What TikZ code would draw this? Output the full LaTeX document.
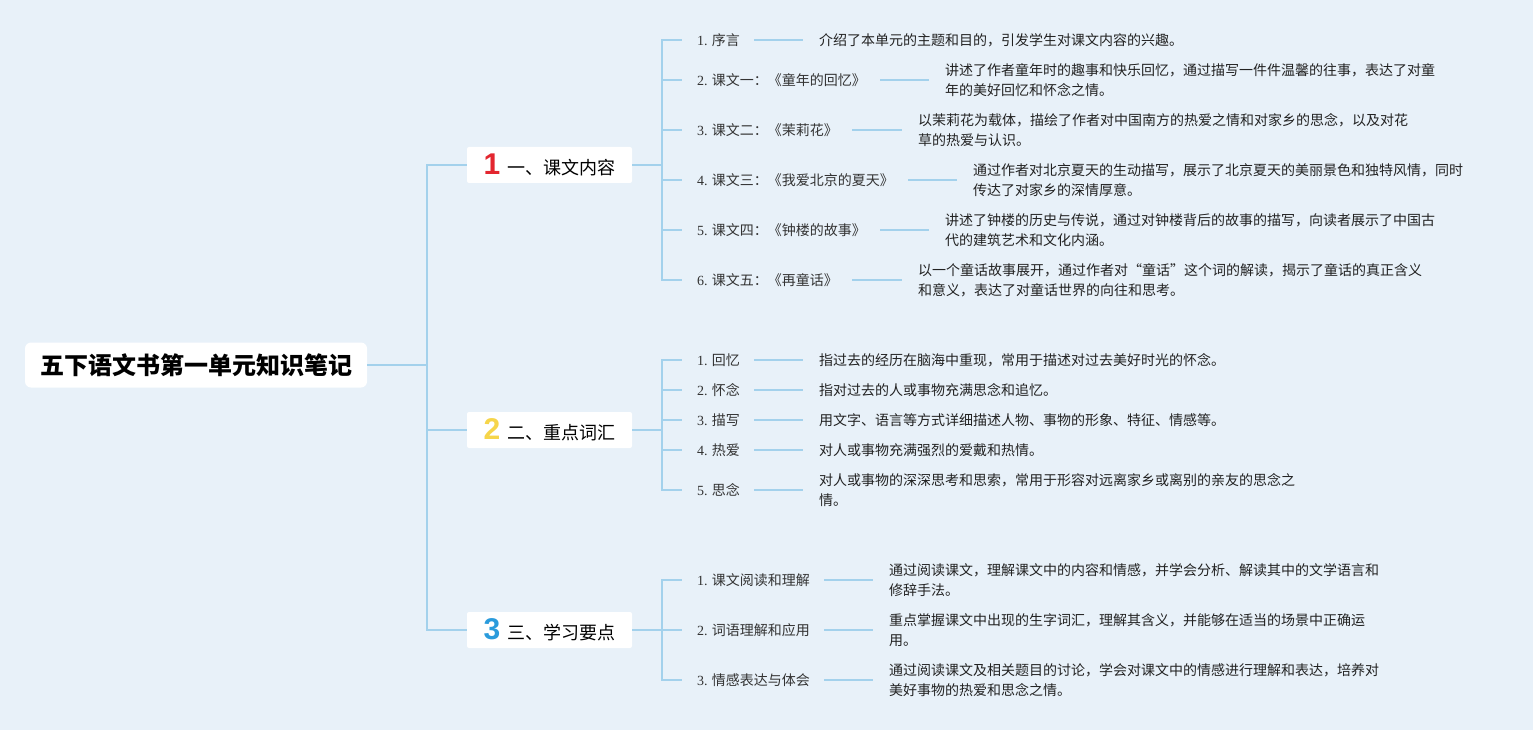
\documentclass[tikz,border=0pt]{standalone}
\usepackage{fontspec}
\setmainfont{Noto Sans CJK SC}
\newfontfamily\numf{Liberation Serif}
\newfontfamily\bignum{Liberation Sans}
\definecolor{bgc}{HTML}{E8F1F9}
\definecolor{linec}{HTML}{A3D1EC}
\definecolor{cred}{HTML}{E3262F}
\definecolor{cyel}{HTML}{F6D54A}
\definecolor{cblu}{HTML}{2A9BDC}
\definecolor{txtc}{HTML}{222222}
\definecolor{lblc}{HTML}{333333}
\newcommand\mycatnum[2]{{\bignum\bfseries\fontsize{30}{30}\selectfont\color{#1}#2}}
\newcommand\nm[1]{{\numf #1}}
\begin{document}
\begin{tikzpicture}[x=1pt,y=-1pt,
  conn/.style={draw=linec, line width=1.6pt},
  rootbox/.style={fill=white, rounded corners=6pt, minimum width=342pt, minimum height=45pt, inner sep=0pt, font=\fontsize{24}{24}\selectfont\bfseries},
  catbox/.style={fill=white, rounded corners=2pt, minimum width=165pt, minimum height=36pt, inner sep=0pt, font=\fontsize{18}{18}\selectfont},
  lbl/.style={anchor=west, inner sep=0pt, font=\fontsize{14}{20}\selectfont, text=lblc},
  dsc/.style={anchor=west, inner sep=0pt, align=left, font=\fontsize{14}{20}\selectfont, text=txtc}]
\fill[bgc] (0,0) rectangle (1533,730);
\useasboundingbox (0,0) rectangle (1533,730);

% root and categories
\node[rootbox] (root) at (196,365) {五下语文书第一单元知识笔记};
\node[catbox] (c1) at (549.5,165) {\mycatnum{cred}{1}\hspace{7pt}一、课文内容};
\node[catbox] (c2) at (549.5,430) {\mycatnum{cyel}{2}\hspace{7pt}二、重点词汇};
\node[catbox] (c3) at (549.5,630) {\mycatnum{cblu}{3}\hspace{7pt}三、学习要点};

\coordinate (j0) at (427,365);
\coordinate (j1) at (662,165);
\coordinate (j2) at (662,430);
\coordinate (j3) at (662,630);

\draw[conn] (root.east) -- (j0);
\foreach \c in {c1,c2,c3} \draw[conn] (j0) |- (\c.west);
\draw[conn] (c1.east) -- (j1);
\draw[conn] (c2.east) -- (j2);
\draw[conn] (c3.east) -- (j3);

% group 1
\node[lbl] (l11) at (697,40) {\nm{1.} 序言};
\node[lbl] (l12) at (697,80) {\nm{2.} 课文一：《童年的回忆》};
\node[lbl] (l13) at (697,130) {\nm{3.} 课文二：《茉莉花》};
\node[lbl] (l14) at (697,180) {\nm{4.} 课文三：《我爱北京的夏天》};
\node[lbl] (l15) at (697,230) {\nm{5.} 课文四：《钟楼的故事》};
\node[lbl] (l16) at (697,280) {\nm{6.} 课文五：《再童话》};

\node[dsc] (d11) at (819,40) {介绍了本单元的主题和目的，引发学生对课文内容的兴趣。};
\node[dsc] (d12) at (945,80) {讲述了作者童年时的趣事和快乐回忆，通过描写一件件温馨的往事，表达了对童\\年的美好回忆和怀念之情。};
\node[dsc] (d13) at (918,130) {以茉莉花为载体，描绘了作者对中国南方的热爱之情和对家乡的思念，以及对花\\草的热爱与认识。};
\node[dsc] (d14) at (973,180) {通过作者对北京夏天的生动描写，展示了北京夏天的美丽景色和独特风情，同时\\传达了对家乡的深情厚意。};
\node[dsc] (d15) at (945,230) {讲述了钟楼的历史与传说，通过对钟楼背后的故事的描写，向读者展示了中国古\\代的建筑艺术和文化内涵。};
\node[dsc] (d16) at (918,280) {以一个童话故事展开，通过作者对“童话”这个词的解读，揭示了童话的真正含义\\和意义，表达了对童话世界的向往和思考。};

% group 2
\node[lbl] (l21) at (697,360) {\nm{1.} 回忆};
\node[lbl] (l22) at (697,390) {\nm{2.} 怀念};
\node[lbl] (l23) at (697,420) {\nm{3.} 描写};
\node[lbl] (l24) at (697,450) {\nm{4.} 热爱};
\node[lbl] (l25) at (697,490) {\nm{5.} 思念};

\node[dsc] (d21) at (819,360) {指过去的经历在脑海中重现，常用于描述对过去美好时光的怀念。};
\node[dsc] (d22) at (819,390) {指对过去的人或事物充满思念和追忆。};
\node[dsc] (d23) at (819,420) {用文字、语言等方式详细描述人物、事物的形象、特征、情感等。};
\node[dsc] (d24) at (819,450) {对人或事物充满强烈的爱戴和热情。};
\node[dsc] (d25) at (819,490) {对人或事物的深深思考和思索，常用于形容对远离家乡或离别的亲友的思念之\\情。};

% group 3
\node[lbl] (l31) at (697,580) {\nm{1.} 课文阅读和理解};
\node[lbl] (l32) at (697,630) {\nm{2.} 词语理解和应用};
\node[lbl] (l33) at (697,680) {\nm{3.} 情感表达与体会};

\node[dsc] (d31) at (889,580) {通过阅读课文，理解课文中的内容和情感，并学会分析、解读其中的文学语言和\\修辞手法。};
\node[dsc] (d32) at (889,630) {重点掌握课文中出现的生字词汇，理解其含义，并能够在适当的场景中正确运\\用。};
\node[dsc] (d33) at (889,680) {通过阅读课文及相关题目的讨论，学会对课文中的情感进行理解和表达，培养对\\美好事物的热爱和思念之情。};

% branch connectors
\foreach \i in {1,...,6} {
  \draw[conn] (j1) |- ([xshift=-15pt]l1\i.west);
  \draw[conn] ([xshift=14pt]l1\i.east) -- ([xshift=-16pt]d1\i.west);
}
\foreach \i in {1,...,5} {
  \draw[conn] (j2) |- ([xshift=-15pt]l2\i.west);
  \draw[conn] ([xshift=14pt]l2\i.east) -- ([xshift=-16pt]d2\i.west);
}
\foreach \i in {1,...,3} {
  \draw[conn] (j3) |- ([xshift=-15pt]l3\i.west);
  \draw[conn] ([xshift=14pt]l3\i.east) -- ([xshift=-16pt]d3\i.west);
}
\end{tikzpicture}
\end{document}
